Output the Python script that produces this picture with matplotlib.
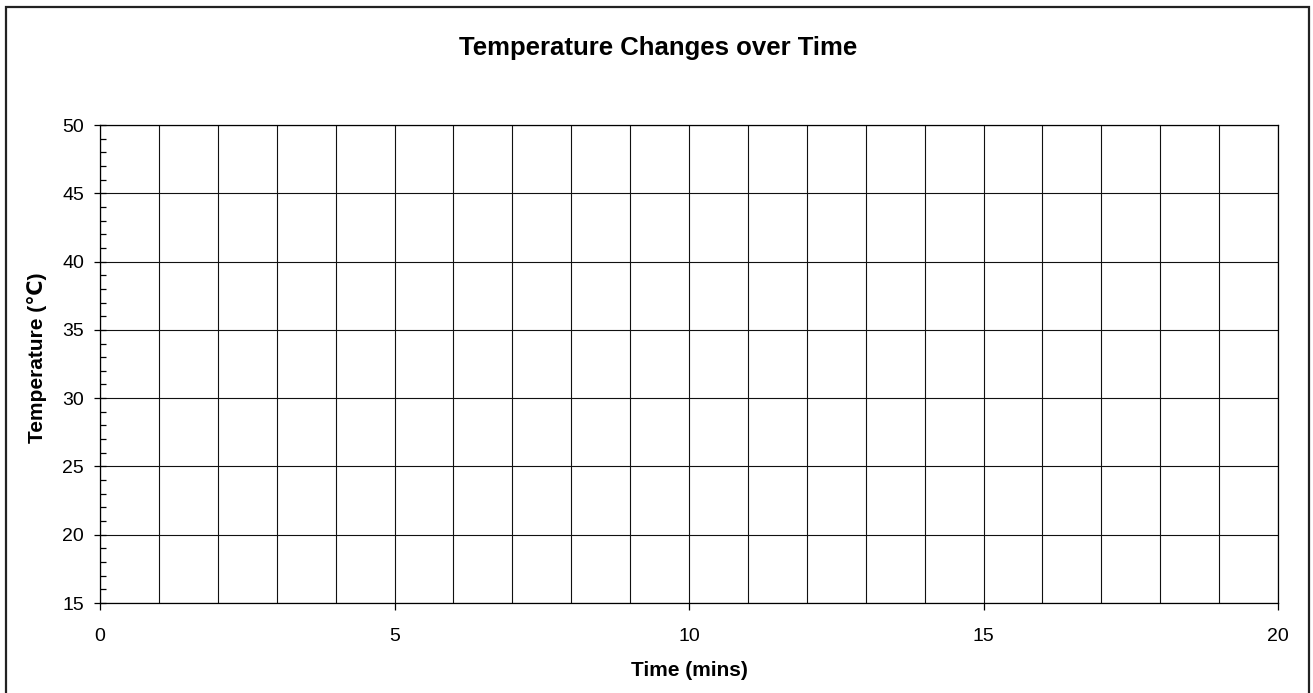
import matplotlib
matplotlib.use("Agg")
import matplotlib.pyplot as plt
from matplotlib.patches import Rectangle
from matplotlib.ticker import MultipleLocator

plt.rcParams['font.family'] = ['Liberation Sans', 'DejaVu Sans']

# Data (the chart is an empty grid: no series plotted)
time_mins = []
temperature = []
x_ticks = [0, 5, 10, 15, 20]
y_ticks = [15, 20, 25, 30, 35, 40, 45, 50]
x_limits = [0, 20]
y_limits = [15, 50]
title = "Temperature Changes over Time"
x_label = "Time (mins)"
y_label = "Temperature (℃)"

W, H = 1313, 693
fig = plt.figure(figsize=(W / 100, H / 100), dpi=100)
ax = fig.add_axes([100 / W, 1 - 603 / H, 1178 / W, 478 / H])

ax.plot(time_mins, temperature, color='black')

ax.set_xlim(*x_limits)
ax.set_ylim(*y_limits)
ax.set_xticks(x_ticks)
ax.set_yticks(y_ticks)
ax.xaxis.set_minor_locator(MultipleLocator(1))
ax.yaxis.set_minor_locator(MultipleLocator(1))

# grid: vertical every 1, horizontal every 5
for xv in range(x_limits[0], x_limits[1] + 1):
    ax.axvline(xv, color='#111111', lw=0.8, zorder=1)
for yv in y_ticks:
    ax.axhline(yv, color='#111111', lw=0.8, zorder=1)

for s in ax.spines.values():
    s.set_color('black')
    s.set_linewidth(0.9)

ax.tick_params(axis='x', which='major', direction='out', length=5, width=0.9,
               labelsize=14, pad=13)
ax.tick_params(axis='x', which='minor', length=0)
ax.tick_params(axis='y', which='major', direction='inout', length=9, width=0.9,
               labelsize=14, pad=7)
ax.tick_params(axis='y', which='minor', direction='in', length=4, width=0.9)

ax.set_xlabel(x_label, fontsize=15, fontweight='bold')
ax.set_ylabel(y_label, fontsize=15, fontweight='bold')
ax.xaxis.set_label_coords(0.5, (603 - 670) / 478)
ax.xaxis.label.set_va('center')
ax.yaxis.set_label_coords((37 - 100) / 1178, (603 - 358) / 478)
ax.yaxis.label.set_va('center')

fig.text(658 / W, 1 - 48 / H, title, ha='center', va='center',
         fontsize=18.5, fontweight='bold')

# outer chart border (bottom edge is cut off in the reference)
fig.patches.append(Rectangle((6 / W, -0.02), (1309 - 6) / W, 1 - 7 / H + 0.02,
                             transform=fig.transFigure, fill=False,
                             edgecolor='#222222', lw=1.6))

fig.savefig("out.png", dpi=100)
